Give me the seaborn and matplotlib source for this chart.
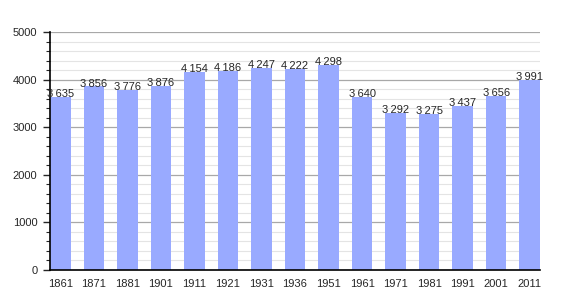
import matplotlib
matplotlib.use("Agg")
import matplotlib.pyplot as plt
import seaborn as sns
import pandas as pd
from matplotlib.ticker import MultipleLocator

years = ["1861", "1871", "1881", "1901", "1911", "1921", "1931", "1936", "1951",
         "1961", "1971", "1981", "1991", "2001", "2011"]
population = [3635, 3856, 3776, 3876, 4154, 4186, 4247, 4222, 4298,
              3640, 3292, 3275, 3437, 3656, 3991]

df = pd.DataFrame({"year": years, "population": population})

sns.set_style("white")
plt.rcParams["font.family"] = ["Liberation Sans", "DejaVu Sans"]

fig = plt.figure(figsize=(5.7, 3.0), dpi=100)
ax = fig.add_axes([50/570, 30/300, 490/570, 238/300])

ax.yaxis.set_major_locator(MultipleLocator(1000))
ax.yaxis.set_minor_locator(MultipleLocator(200))
ax.grid(which="major", axis="y", color="#a8a8a8", linewidth=0.9)
ax.grid(which="minor", axis="y", color="#e4e4e4", linewidth=0.8)
ax.set_axisbelow(True)

sns.barplot(data=df, x="year", y="population", color="#99aaff", saturation=1,
            width=0.62, linewidth=0, edgecolor="none", ax=ax, zorder=2)

labels = [f"{v:,}".replace(",", "\u2009") for v in population]
ax.bar_label(ax.containers[0], labels=labels, fontsize=8, padding=-1.5)

ax.set_xlim(-0.31, 14.31)
ax.set_ylim(0, 5000)
ax.set_xlabel("")
ax.set_ylabel("")
for s in ["top", "right"]:
    ax.spines[s].set_visible(False)
ax.spines["left"].set_color("black")
ax.spines["bottom"].set_color("black")
ax.spines["left"].set_linewidth(1.2)
ax.spines["bottom"].set_linewidth(1.2)
ax.tick_params(axis="y", which="major", left=True, length=5, labelsize=8, width=1, pad=4)
ax.tick_params(axis="y", which="minor", left=True, length=3, width=0.8)
ax.tick_params(axis="x", bottom=False, labelsize=8, pad=3)

fig.savefig("out.png", dpi=100)
